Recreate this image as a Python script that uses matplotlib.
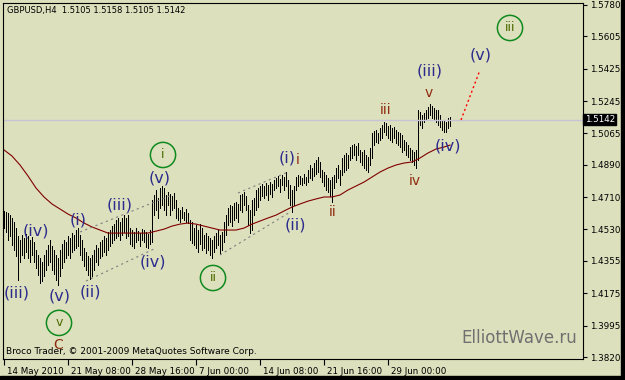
import numpy as np
import matplotlib
matplotlib.use("Agg")
import matplotlib.pyplot as plt
from matplotlib.transforms import ScaledTranslation

# GBPUSD H4 bars (high / low), one per 4-hour bar
highs = [1.4633, 1.4627, 1.4622, 1.4610, 1.4594, 1.4571, 1.4538, 1.4493, 1.4471, 1.4499,
         1.4482, 1.4505, 1.4493, 1.4471, 1.4488, 1.4460, 1.4416, 1.4388, 1.4371, 1.4349,
         1.4388, 1.4416, 1.4443, 1.4471, 1.4438, 1.4416, 1.4388, 1.4371, 1.4416, 1.4449,
         1.4471, 1.4460, 1.4493, 1.4482, 1.4510, 1.4499, 1.4527, 1.4538, 1.4499, 1.4471,
         1.4427, 1.4404, 1.4382, 1.4371, 1.4388, 1.4416, 1.4443, 1.4427, 1.4460, 1.4471,
         1.4493, 1.4482, 1.4516, 1.4527, 1.4549, 1.4560, 1.4583, 1.4594, 1.4571, 1.4594,
         1.4610, 1.4594, 1.4610, 1.4538, 1.4527, 1.4516, 1.4538, 1.4521, 1.4510, 1.4532,
         1.4527, 1.4516, 1.4505, 1.4527, 1.4694, 1.4722, 1.4750, 1.4705, 1.4761, 1.4772,
         1.4761, 1.4722, 1.4739, 1.4727, 1.4716, 1.4733, 1.4694, 1.4649, 1.4638, 1.4655,
         1.4627, 1.4644, 1.4622, 1.4583, 1.4571, 1.4538, 1.4555, 1.4527, 1.4560, 1.4538,
         1.4499, 1.4510, 1.4493, 1.4482, 1.4471, 1.4493, 1.4510, 1.4527, 1.4499, 1.4516,
         1.4571, 1.4610, 1.4649, 1.4666, 1.4661, 1.4677, 1.4683, 1.4672, 1.4722, 1.4727,
         1.4739, 1.4716, 1.4666, 1.4638, 1.4694, 1.4705, 1.4750, 1.4761, 1.4772, 1.4783,
         1.4772, 1.4789, 1.4778, 1.4794, 1.4783, 1.4806, 1.4817, 1.4828, 1.4811, 1.4833,
         1.4822, 1.4850, 1.4806, 1.4778, 1.4750, 1.4772, 1.4822, 1.4833, 1.4828, 1.4817,
         1.4839, 1.4822, 1.4861, 1.4889, 1.4872, 1.4900, 1.4917, 1.4934, 1.4906, 1.4861,
         1.4850, 1.4833, 1.4817, 1.4806, 1.4822, 1.4833, 1.4872, 1.4889, 1.4861, 1.4928,
         1.4945, 1.4956, 1.4945, 1.4989, 1.5000, 1.5006, 1.4995, 1.5011, 1.4973, 1.4961,
         1.4973, 1.4945, 1.4934, 1.4984, 1.5067, 1.5078, 1.5084, 1.5067, 1.5095, 1.5112,
         1.5128, 1.5123, 1.5106, 1.5112, 1.5095, 1.5101, 1.5084, 1.5073, 1.5067, 1.5056,
         1.5028, 1.5017, 1.5000, 1.4984, 1.4973, 1.4961, 1.4973, 1.5195, 1.5184, 1.5167,
         1.5179, 1.5195, 1.5212, 1.5229, 1.5218, 1.5206, 1.5195, 1.5195, 1.5167, 1.5140,
         1.5134, 1.5128, 1.5151, 1.5158]
lows = [1.4538, 1.4516, 1.4471, 1.4493, 1.4443, 1.4416, 1.4382, 1.4248, 1.4349, 1.4388,
        1.4371, 1.4404, 1.4371, 1.4349, 1.4388, 1.4349, 1.4315, 1.4276, 1.4232, 1.4243,
        1.4271, 1.4304, 1.4332, 1.4349, 1.4304, 1.4282, 1.4248, 1.4221, 1.4271, 1.4315,
        1.4349, 1.4371, 1.4388, 1.4371, 1.4404, 1.4416, 1.4427, 1.4438, 1.4388, 1.4360,
        1.4326, 1.4304, 1.4276, 1.4254, 1.4271, 1.4304, 1.4349, 1.4332, 1.4371, 1.4382,
        1.4404, 1.4388, 1.4416, 1.4438, 1.4455, 1.4471, 1.4482, 1.4493, 1.4471, 1.4499,
        1.4516, 1.4482, 1.4493, 1.4449, 1.4438, 1.4427, 1.4460, 1.4471, 1.4438, 1.4471,
        1.4460, 1.4432, 1.4427, 1.4449, 1.4460, 1.4610, 1.4638, 1.4594, 1.4649, 1.4666,
        1.4638, 1.4610, 1.4666, 1.4610, 1.4638, 1.4649, 1.4594, 1.4583, 1.4571, 1.4594,
        1.4583, 1.4571, 1.4566, 1.4471, 1.4455, 1.4443, 1.4427, 1.4404, 1.4449, 1.4416,
        1.4427, 1.4399, 1.4416, 1.4388, 1.4371, 1.4404, 1.4427, 1.4443, 1.4399, 1.4416,
        1.4460, 1.4499, 1.4555, 1.4571, 1.4549, 1.4583, 1.4594, 1.4571, 1.4638, 1.4627,
        1.4666, 1.4638, 1.4555, 1.4510, 1.4527, 1.4610, 1.4638, 1.4655, 1.4694, 1.4716,
        1.4705, 1.4722, 1.4694, 1.4727, 1.4711, 1.4750, 1.4761, 1.4772, 1.4739, 1.4778,
        1.4750, 1.4772, 1.4705, 1.4666, 1.4627, 1.4666, 1.4750, 1.4772, 1.4783, 1.4778,
        1.4789, 1.4778, 1.4794, 1.4817, 1.4806, 1.4828, 1.4839, 1.4850, 1.4822, 1.4794,
        1.4772, 1.4750, 1.4739, 1.4716, 1.4683, 1.4761, 1.4794, 1.4817, 1.4778, 1.4833,
        1.4850, 1.4861, 1.4872, 1.4917, 1.4928, 1.4945, 1.4917, 1.4945, 1.4906, 1.4889,
        1.4872, 1.4861, 1.4850, 1.4889, 1.4928, 1.5000, 1.5017, 1.5011, 1.5028, 1.5039,
        1.5073, 1.5056, 1.5039, 1.5028, 1.5017, 1.5039, 1.5011, 1.5000, 1.4989, 1.4961,
        1.4973, 1.4945, 1.4934, 1.4917, 1.4906, 1.4889, 1.4872, 1.4917, 1.5112, 1.5095,
        1.5128, 1.5140, 1.5151, 1.5167, 1.5151, 1.5140, 1.5128, 1.5112, 1.5101, 1.5084,
        1.5073, 1.5073, 1.5095, 1.5105]

# moving average, read every 4 bars
ma_idx = [0, 4, 8, 12, 16, 20, 24, 28, 32, 36, 40, 44, 48, 52, 56, 60, 64, 68, 72, 76,
          80, 84, 88, 92, 96, 100, 104, 108, 112, 116, 120, 124, 128, 132, 136, 140, 144,
          148, 152, 156, 160, 164, 168, 172, 176, 180, 184, 188, 192, 196, 200, 204, 208,
          212, 216, 220, 223]
ma_val = [1.4973, 1.4939, 1.4889, 1.4828, 1.4761, 1.4711, 1.4672, 1.4644, 1.4616, 1.4594,
          1.4566, 1.4544, 1.4527, 1.4510, 1.4510, 1.4510, 1.4510, 1.4510, 1.4510, 1.4521,
          1.4532, 1.4549, 1.4560, 1.4566, 1.4560, 1.4549, 1.4538, 1.4527, 1.4527, 1.4527,
          1.4538, 1.4560, 1.4577, 1.4594, 1.4610, 1.4633, 1.4655, 1.4672, 1.4688, 1.4700,
          1.4711, 1.4711, 1.4722, 1.4750, 1.4772, 1.4794, 1.4822, 1.4850, 1.4872, 1.4889,
          1.4900, 1.4906, 1.4928, 1.4956, 1.4978, 1.4989, 1.5000]

last_price = 1.5142
title = "GBPUSD,H4  1.5105 1.5158 1.5105 1.5142"

price_ticks = [1.5780, 1.5605, 1.5425, 1.5245, 1.5065, 1.4890, 1.4710,
               1.4530, 1.4355, 1.4175, 1.3995, 1.3820]
date_ticks = [0, 32, 64, 96, 128, 160, 192]
date_labels = ["14 May 2010", "21 May 08:00", "28 May 16:00", "7 Jun 00:00",
               "14 Jun 08:00", "21 Jun 16:00", "29 Jun 00:00"]

# wave labels: (text, bar, price)
blue_labels = [("(iii)", 6.5, 1.4176), ("(iv)", 16, 1.4521), ("(i)", 37, 1.4583),
               ("(v)", 28, 1.4159), ("(ii)", 43, 1.4182), ("(iii)", 58, 1.4666),
               ("(iv)", 74.5, 1.4349), ("(v)", 78, 1.4817), ("(i)", 141.5, 1.4928),
               ("(ii)", 145.5, 1.4555), ("(iii)", 213, 1.5413), ("(iv)", 222, 1.4995),
               ("(v)", 238.5, 1.5502)]
red_labels = [("i", 147, 1.4917), ("ii", 164.5, 1.4627), ("iii", 191, 1.5195),
              ("iv", 205.5, 1.4800), ("v", 212.5, 1.5290), ("C", 27, 1.3885)]
circle_labels = [("v", 27.5, 1.4010), ("i", 79.5, 1.4945), ("ii", 104.5, 1.4260),
                 ("iii", 253, 1.5652)]

# channel lines (bar, price) -> (bar, price)
channels = [((38, 1.4516), (84, 1.4722)), ((41, 1.4243), (76, 1.4427)),
            ((117, 1.4733), (142, 1.4850)), ((108, 1.4388), (143, 1.4627))]
target = ((228.5, 1.5140), (238, 1.5418))

bg = '#dde0bd'
fig = plt.figure(figsize=(6.25, 3.8), dpi=100, facecolor=bg)
ax = fig.add_axes([3/625, 21/380, 580/625, 356/380], facecolor=bg)

x = np.arange(len(highs))
ax.vlines(x, lows, highs, color='black', lw=0.72, antialiased=False)
ax.plot(ma_idx, ma_val, color='#800000', lw=0.8)
ax.axhline(last_price, color='#c4c4d4', lw=1)

for (x0, y0), (x1, y1) in channels:
    ax.plot([x0, x1], [y0, y1], color='#808080', lw=0.8, ls=(0, (2, 3)))
ax.plot([target[0][0], target[1][0]], [target[0][1], target[1][1]],
        color='red', lw=1, ls=(0, (1.5, 2)))

for t, xi, yi in blue_labels:
    ax.text(xi, yi, t, color='#2b2b8c', fontsize=11.5, ha='center', va='center')
for t, xi, yi in red_labels:
    ax.text(xi, yi, t, color='#8e2a0e', fontsize=10, ha='center', va='center')
for t, xi, yi in circle_labels:
    ax.scatter([xi], [yi], s=330, facecolors='none', edgecolors='#0f8a1f', lw=1.1)
    ax.text(xi, yi, t, color='#4a6a00', fontsize=9, ha='center', va='center')

ax.set_xlim(-0.5, 289.5)
ax.set_ylim(1.3809, 1.5791)

ax.yaxis.tick_right()
ax.set_yticks(price_ticks)
ax.set_yticklabels([f"{p:.4f}" for p in price_ticks])
ax.tick_params(axis='y', direction='out', length=3, width=0.8, pad=2, labelsize=6.3)
ax.set_xticks(date_ticks)
ax.set_xticklabels(date_labels, ha='left')
ax.tick_params(axis='x', direction='out', length=4, width=0.8, pad=2, labelsize=6.3)
for lbl in ax.get_xticklabels():
    lbl.set_transform(lbl.get_transform() + ScaledTranslation(0.03, 0, fig.dpi_scale_trans))
for s in ax.spines.values():
    s.set_color('black')
    s.set_linewidth(0.8)

# current price box on the price scale
ax.text(1.003, last_price, f"{last_price:.4f}", transform=ax.get_yaxis_transform(),
        color='white', fontsize=6.3, ha='left', va='center',
        bbox=dict(boxstyle='square,pad=0.15', fc='black', ec='black'))

ax.text(0.007, 0.992, title, transform=ax.transAxes, fontsize=6, va='top', ha='left')
ax.text(0.005, 0.008, "Broco Trader, \u00a9 2001-2009 MetaQuotes Software Corp.",
        transform=ax.transAxes, fontsize=6.5, va='bottom', ha='left')
ax.text(0.99, 0.035, "ElliottWave.ru", transform=ax.transAxes, fontsize=12,
        color='#707070', va='bottom', ha='right')

# black window edges
fig.patches.append(plt.Rectangle((0, 0), 1, 4/380, transform=fig.transFigure,
                                 color='black', zorder=-1))
fig.patches.append(plt.Rectangle((621/625, 0), 4/625, 1, transform=fig.transFigure,
                                 color='black', zorder=-1))

fig.savefig("out.png", dpi=100, facecolor=bg)
